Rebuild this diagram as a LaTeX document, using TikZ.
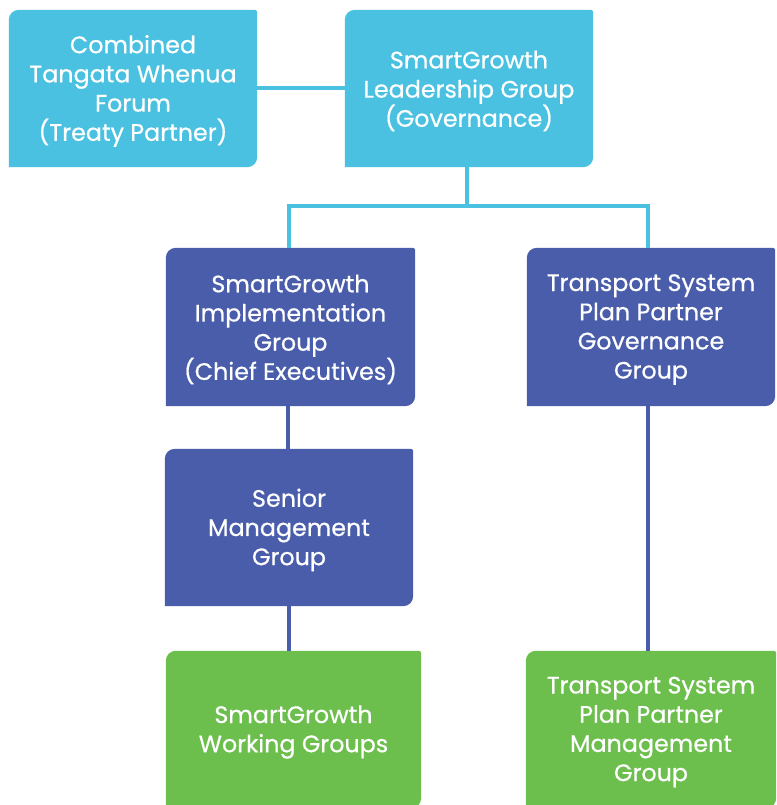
\documentclass[tikz,border=0pt]{standalone}
\usepackage{fontspec}
\setmainfont{Poppins}[FakeBold=0.6]
\usetikzlibrary{backgrounds,calc}
\definecolor{sgcyan}{HTML}{4AC1E0}
\definecolor{sgblue}{HTML}{4A5DAA}
\definecolor{sggreen}{HTML}{6CBE4D}
\newcommand\orgshape[2]{%
  \fill[#2] (#1.south west) -- ([yshift=-10pt]#1.north west)
    arc[start angle=180,end angle=90,radius=10pt]
    -- ([xshift=-2.5pt]#1.north east)
    arc[start angle=90,end angle=0,radius=2.5pt]
    -- ([yshift=10pt]#1.south east)
    arc[start angle=0,end angle=-90,radius=10pt] -- cycle;}
\tikzset{
  orgbox/.style={rectangle,inner sep=0pt,text=white,align=center,
    minimum width=248pt,minimum height=157pt,
    font=\fontsize{23.8}{29.2}\selectfont},
  orgtext/.style={inner sep=0pt,text=white,align=center,
    font=\fontsize{23.8}{29.2}\selectfont},
  cline/.style={draw=sgcyan,line width=4pt},
  bline/.style={draw=sgblue,line width=4pt}
}
\begin{document}
\begin{tikzpicture}[x=1pt,y=1pt]
\path[use as bounding box] (0,0) rectangle (776,-805);
\node[orgbox] (cw) at (133,-88.5) {};
\node[orgbox] (lg) at (469,-88.5) {};
\node[orgbox,minimum width=249pt,minimum height=158pt] (ig) at (290.5,-327) {};
\node[orgbox,minimum height=158pt] (tg) at (651,-327) {};
\node[orgbox] (sm) at (289,-527.5) {};
\node[orgbox,minimum width=255pt] (wg) at (293.5,-729.5) {};
\node[orgbox,minimum width=250pt] (tm) at (651,-729.5) {};
\node[orgtext] (cwt) at ([yshift=-2.5pt]cw.center) {Combined\\Tangata Whenua\\Forum\\(Treaty Partner)};
\node[orgtext] (lgt) at ([yshift=-2.5pt]lg.center) {SmartGrowth\\Leadership Group\\(Governance)};
\node[orgtext] (igt) at ([yshift=-2.5pt]ig.center) {SmartGrowth\\Implementation\\Group\\(Chief Executives)};
\node[orgtext] (tgt) at ([yshift=-2.5pt]tg.center) {Transport System\\Plan Partner\\Governance\\Group};
\node[orgtext] (smt) at ([yshift=-2.5pt]sm.center) {Senior\\Management\\Group};
\node[orgtext] (wgt) at ([yshift=-2.5pt]wg.center) {SmartGrowth\\Working Groups};
\node[orgtext] (tmt) at ([yshift=-2.5pt]tm.center) {Transport System\\Plan Partner\\Management\\Group};
\coordinate (j) at (467,-206);
\begin{scope}[on background layer]
\orgshape{cw}{sgcyan}
\orgshape{lg}{sgcyan}
\orgshape{ig}{sgblue}
\orgshape{tg}{sgblue}
\orgshape{sm}{sgblue}
\orgshape{wg}{sggreen}
\orgshape{tm}{sggreen}
\draw[cline] (cw.east) -- (lg.west);
\draw[cline] ([xshift=-2pt]lg.south) -- (j);
\draw[cline] ([xshift=-1.5pt]ig.north) |- (j) -| ([xshift=-3pt]tg.north);
\draw[bline] ([xshift=-3pt]ig.south) -- ([xshift=-1.5pt]sm.north);
\draw[bline] (sm.south) -- ([xshift=-4.5pt]wg.north);
\draw[bline] ([xshift=-3pt]tg.south) -- ([xshift=-3pt]tm.north);
\end{scope}
\end{tikzpicture}
\end{document}
